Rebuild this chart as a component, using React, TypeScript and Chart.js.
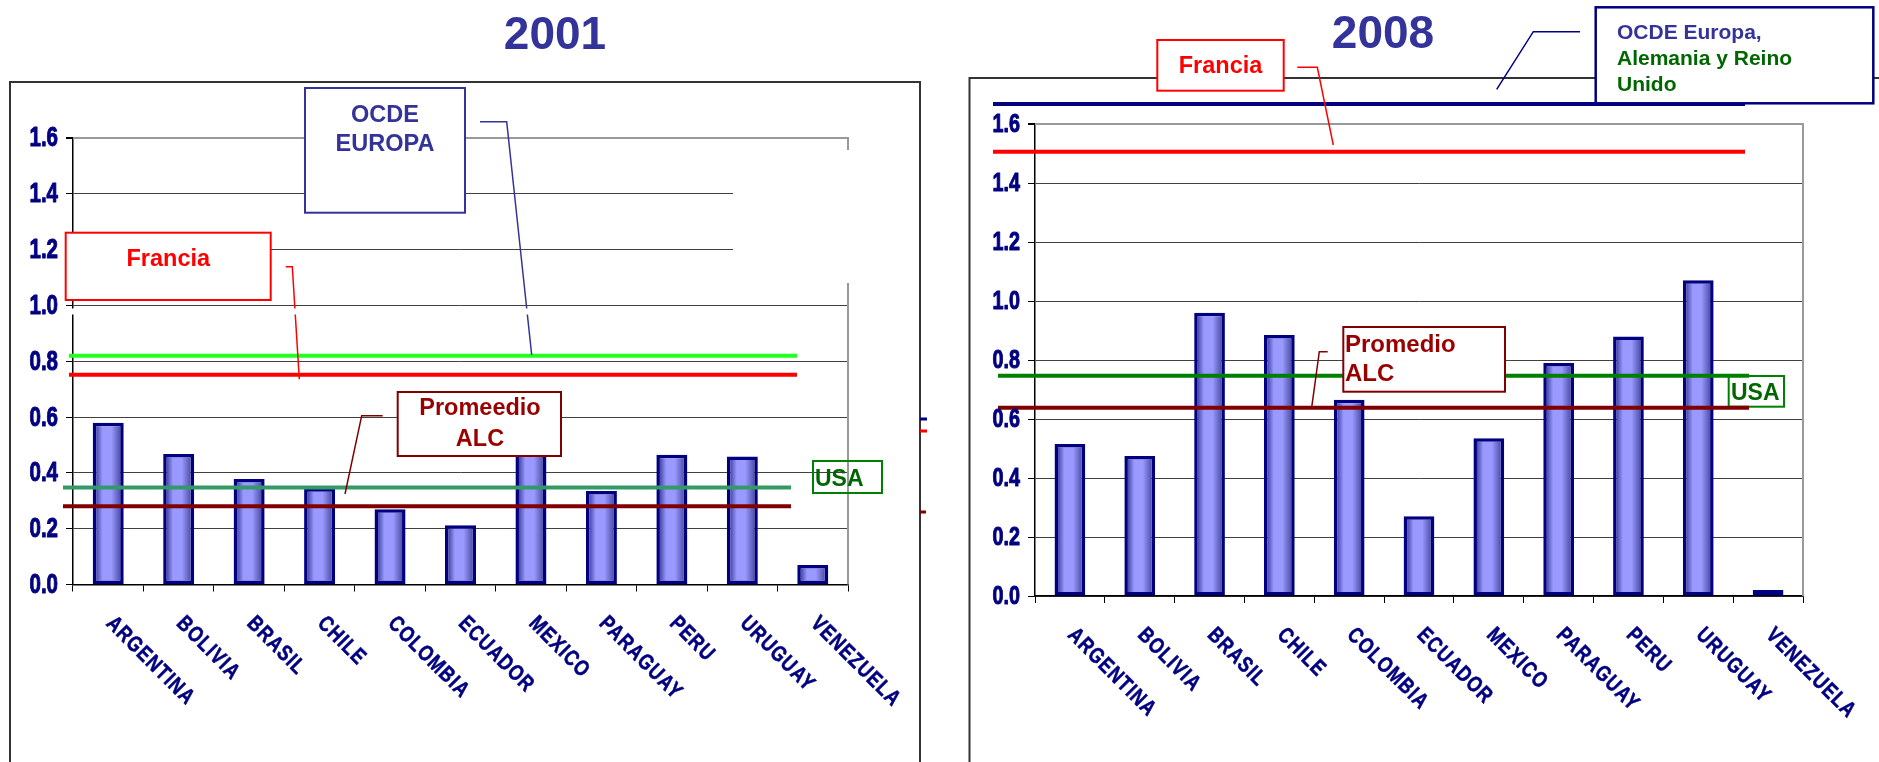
import React, { useEffect, useRef } from 'react';
import { Chart, registerables } from 'chart.js';

Chart.register(...registerables);

// ---------------- DATA ----------------
const categories = ['ARGENTINA', 'BOLIVIA', 'BRASIL', 'CHILE', 'COLOMBIA', 'ECUADOR', 'MEXICO', 'PARAGUAY', 'PERU', 'URUGUAY', 'VENEZUELA'];
const values2001 = [0.58, 0.468, 0.378, 0.345, 0.27, 0.212, 0.48, 0.335, 0.465, 0.459, 0.07];
const values2008 = [0.515, 0.475, 0.96, 0.885, 0.665, 0.27, 0.535, 0.79, 0.88, 1.07, 0.02];
// reference lines: OCDE Europa, Francia, USA, Promedio ALC
const refValues2001 = [0.82, 0.752, 0.348, 0.28];
const refValues2008 = [1.668, 1.506, 0.747, 0.638];
const yTickValues = [0, 0.2, 0.4, 0.6, 0.8, 1.0, 1.2, 1.4, 1.6];
const yTickLabels = ['0.0', '0.2', '0.4', '0.6', '0.8', '1.0', '1.2', '1.4', '1.6'];
const titles = ['2001', '2008'];

// ---------------- STYLE ----------------
const SANS = "'Liberation Sans', Arial, Helvetica, sans-serif";

type Pt = [number, number];

function poly(ctx: CanvasRenderingContext2D, pts: Pt[], color: string, w: number) {
  ctx.save();
  ctx.strokeStyle = color;
  ctx.lineWidth = w;
  ctx.beginPath();
  pts.forEach((p, i) => (i ? ctx.lineTo(p[0], p[1]) : ctx.moveTo(p[0], p[1])));
  ctx.stroke();
  ctx.restore();
}
function box(ctx: CanvasRenderingContext2D, x0: number, y0: number, x1: number, y1: number, color: string, w: number, fill: string | null) {
  ctx.save();
  if (fill) {
    ctx.fillStyle = fill;
    ctx.fillRect(x0, y0, x1 - x0, y1 - y0);
  }
  ctx.strokeStyle = color;
  ctx.lineWidth = w;
  ctx.strokeRect(x0, y0, x1 - x0, y1 - y0);
  ctx.restore();
}
function text(ctx: CanvasRenderingContext2D, s: string, x: number, y: number, size: number, color: string, align: CanvasTextAlign = 'center') {
  ctx.save();
  ctx.font = `bold ${size}px ${SANS}`;
  ctx.fillStyle = color;
  ctx.textAlign = align;
  ctx.textBaseline = 'alphabetic';
  ctx.fillText(s, x, y);
  ctx.restore();
}

interface Panel {
  left: number;
  width: number;
  plot: { left: number; right: number; top: number; bottom: number };
  tickSize: number;
  title: string;
  titleX: number;
  titleY: number;
  values: number[];
  refValues: number[];
  refStyles: { color: string; width: number; x0: number; x1: number }[];
  frame: (ctx: CanvasRenderingContext2D) => void;
  under: (ctx: CanvasRenderingContext2D) => void;
  decorate: (ctx: CanvasRenderingContext2D) => void;
}

const panels: Panel[] = [
  {
    left: 0,
    width: 945,
    plot: { left: 73, right: 848, top: 138, bottom: 584.5 },
    tickSize: 27,
    title: titles[0],
    titleX: 555,
    titleY: 49,
    values: values2001,
    refValues: refValues2001,
    refStyles: [
      { color: '#22FF22', width: 4, x0: 69, x1: 797 },
      { color: '#FF0000', width: 4, x0: 69, x1: 797 },
      { color: '#339966', width: 4, x0: 63, x1: 791 },
      { color: '#800000', width: 4, x0: 63, x1: 791 },
    ],
    frame: (ctx) => {
      poly(ctx, [[10, 762], [10, 82], [920, 82], [920, 762]], '#333333', 2);
    },
    under: () => {},
    decorate: (ctx) => {
      poly(ctx, [[480, 121.7], [506.7, 121.7], [531.7, 355]], '#333399', 1.5);
      box(ctx, 305, 88, 465, 212.7, '#333399', 2, '#ffffff');
      text(ctx, 'OCDE', 385, 121.7, 23.5, '#333399');
      text(ctx, 'EUROPA', 385, 150.7, 23.5, '#333399');
      box(ctx, 65.7, 232.7, 270.7, 300, '#FF0000', 2, '#ffffff');
      text(ctx, 'Francia', 168.3, 265.7, 23.5, '#FF0000');
      poly(ctx, [[285.7, 266.7], [292.3, 266.7], [299.3, 379.3]], '#FF0000', 1.5);
      box(ctx, 397.7, 392, 561, 456, '#800000', 2, '#ffffff');
      text(ctx, 'Promeedio', 480, 415, 23.5, '#990000');
      text(ctx, 'ALC', 480, 445.7, 23.5, '#990000');
      poly(ctx, [[382.7, 415.7], [361.7, 415.7], [345, 494]], '#800000', 1.5);
      box(ctx, 813, 461, 882, 493, '#008000', 2, null);
      text(ctx, 'USA', 815, 486, 23, '#006600', 'left');
      // white patches present in the original
      ctx.save();
      ctx.fillStyle = '#ffffff';
      ctx.fillRect(733, 150, 119, 133);
      ctx.fillRect(70, 308.5, 470, 6);
      ctx.restore();
      // stray line ends near the frame
      ctx.save();
      ctx.fillStyle = '#000080';
      ctx.fillRect(920, 417.5, 7, 3);
      ctx.fillStyle = '#FF0000';
      ctx.fillRect(920, 429.5, 7, 3);
      ctx.fillStyle = '#800000';
      ctx.fillRect(920, 510.5, 6, 3);
      ctx.restore();
    },
  },
  {
    left: 945,
    width: 934,
    plot: { left: 1035, right: 1803, top: 124, bottom: 596 },
    tickSize: 26,
    title: titles[1],
    titleX: 1383,
    titleY: 48,
    values: values2008,
    refValues: refValues2008,
    refStyles: [
      { color: '#000080', width: 4, x0: 993, x1: 1745 },
      { color: '#FF0000', width: 4, x0: 993, x1: 1745 },
      { color: '#008000', width: 4, x0: 998, x1: 1749 },
      { color: '#800000', width: 4, x0: 998, x1: 1749 },
    ],
    frame: (ctx) => {
      poly(ctx, [[969.5, 762], [969.5, 78], [1879, 78]], '#333333', 2);
    },
    under: (ctx) => {
      box(ctx, 1728.7, 376, 1784, 406.7, '#008000', 2, '#ffffff');
      text(ctx, 'USA', 1731, 400, 23, '#006600', 'left');
    },
    decorate: (ctx) => {
      box(ctx, 1157.3, 40, 1283.7, 90.7, '#FF0000', 2, '#ffffff');
      text(ctx, 'Francia', 1220.5, 73, 23.5, '#FF0000');
      poly(ctx, [[1297.3, 67.3], [1317.3, 67.3], [1333.3, 145]], '#FF0000', 1.5);
      poly(ctx, [[1580, 31.7], [1533.3, 31.7], [1496.7, 89.3]], '#000080', 1.5);
      box(ctx, 1595.7, 7.3, 1873.3, 103.3, '#000080', 2.5, '#ffffff');
      text(ctx, 'OCDE Europa,', 1617, 39, 21, '#333399', 'left');
      text(ctx, 'Alemania y Reino', 1617, 65, 21, '#006600', 'left');
      text(ctx, 'Unido', 1617, 90.7, 21, '#006600', 'left');
      box(ctx, 1343.3, 327, 1505, 391.7, '#800000', 2, '#ffffff');
      text(ctx, 'Promedio', 1345, 352, 24, '#990000', 'left');
      text(ctx, 'ALC', 1345, 381, 24, '#990000', 'left');
      poly(ctx, [[1327.7, 351.7], [1319.3, 351.7], [1311.7, 407.3]], '#800000', 1.5);
    },
  },
];

const BAR_PCT = 0.44;

function makeChart(canvas: HTMLCanvasElement, p: Panel) {
  const H = 762;
  const yAxisW = 60;
  const deco = {
    id: 'deco' + p.title,
    beforeDraw(chart: any) {
      const ctx = chart.ctx as CanvasRenderingContext2D;
      ctx.save();
      ctx.translate(-p.left, 0);
      p.frame(ctx);
      ctx.font = `bold 46px ${SANS}`;
      ctx.fillStyle = '#333399';
      ctx.textAlign = 'center';
      ctx.textBaseline = 'alphabetic';
      ctx.fillText(p.title, p.titleX, p.titleY);
      ctx.restore();
    },
    beforeDatasetsDraw(chart: any) {
      const ctx = chart.ctx as CanvasRenderingContext2D;
      const a = chart.chartArea;
      ctx.save();
      ctx.strokeStyle = '#999999';
      ctx.lineWidth = 2;
      ctx.beginPath();
      ctx.moveTo(a.left, a.top);
      ctx.lineTo(a.right, a.top);
      ctx.lineTo(a.right, a.bottom);
      ctx.stroke();
      ctx.translate(-p.left, 0);
      p.under(ctx);
      ctx.restore();
    },
    afterDatasetsDraw(chart: any) {
      const ctx = chart.ctx as CanvasRenderingContext2D;
      const ys = chart.scales.y;
      ctx.save();
      ctx.translate(-p.left, 0);
      p.refValues.forEach((v, i) => {
        const st = p.refStyles[i];
        const y = ys.getPixelForValue(v);
        poly(ctx, [[st.x0, y], [st.x1, y]], st.color, st.width);
      });
      ctx.restore();
    },
    afterDraw(chart: any) {
      const ctx = chart.ctx as CanvasRenderingContext2D;
      const xs = chart.scales.x;
      const ys = chart.scales.y;
      const a = chart.chartArea;
      // y tick labels (condensed, heavy)
      ctx.save();
      ctx.font = `bold ${p.tickSize}px ${SANS}`;
      ctx.fillStyle = '#000080';
      ctx.strokeStyle = '#000080';
      ctx.lineWidth = 1;
      ctx.lineJoin = 'round';
      ctx.textAlign = 'right';
      ctx.textBaseline = 'middle';
      yTickValues.forEach((v, i) => {
        const y = ys.getPixelForValue(v);
        ctx.save();
        ctx.translate(a.left - 15, y + 1);
        ctx.scale(0.76, 1);
        ctx.fillText(yTickLabels[i], 0, 0);
        ctx.strokeText(yTickLabels[i], 0, 0);
        ctx.restore();
      });
      ctx.restore();
      // rotated category labels
      ctx.save();
      ctx.font = `bold 22px ${SANS}`;
      (ctx as any).letterSpacing = '1.5px';
      ctx.fillStyle = '#000080';
      ctx.strokeStyle = '#000080';
      ctx.lineWidth = 0.6;
      ctx.textAlign = 'left';
      ctx.textBaseline = 'top';
      categories.forEach((c, i) => {
        const cx = xs.getPixelForValue(i);
        ctx.save();
        ctx.translate(cx + 9, a.bottom + 28);
        ctx.rotate(Math.PI / 4);
        ctx.scale(0.8, 1);
        ctx.fillText(c, 0, 0);
        ctx.strokeText(c, 0, 0);
        ctx.restore();
      });
      ctx.restore();
      ctx.save();
      ctx.translate(-p.left, 0);
      p.decorate(ctx);
      ctx.restore();
    },
  };

  return new Chart(canvas, {
    type: 'bar',
    data: {
      labels: categories,
      datasets: [
        {
          data: p.values,
          barPercentage: BAR_PCT,
          categoryPercentage: 1,
          borderColor: '#000080',
          borderWidth: 3.5,
          borderSkipped: false,
          backgroundColor: (c: any) => {
            const chart = c.chart;
            const xs = chart.scales && chart.scales.x;
            if (!xs || c.dataIndex == null || !xs.width) return '#9999FF';
            const cx = xs.getPixelForValue(c.dataIndex);
            const w = (xs.width / categories.length) * BAR_PCT;
            const g = chart.ctx.createLinearGradient(cx - w / 2, 0, cx + w / 2, 0);
            g.addColorStop(0, '#1a1a78');
            g.addColorStop(0.32, '#9999FF');
            g.addColorStop(0.6, '#9999FF');
            g.addColorStop(1, '#34348a');
            return g;
          },
        },
      ],
    },
    options: {
      responsive: false,
      animation: false,
      devicePixelRatio: 1,
      layout: {
        padding: {
          left: p.plot.left - p.left - yAxisW,
          right: p.left + p.width - p.plot.right,
          top: p.plot.top,
          bottom: 0,
        },
      },
      plugins: { legend: { display: false }, tooltip: { enabled: false } },
      scales: {
        x: {
          offset: true,
          afterFit: (s: any) => {
            s.height = H - p.plot.bottom;
          },
          grid: { offset: true, drawOnChartArea: false, drawTicks: true, tickLength: 7, color: '#000000', lineWidth: 1 },
          border: { display: true, color: '#000000', width: 1.5 },
          ticks: { display: false },
        },
        y: {
          min: 0,
          max: 1.6,
          afterFit: (s: any) => {
            s.width = yAxisW;
          },
          afterBuildTicks: (s: any) => {
            s.ticks = yTickValues.map((v) => ({ value: v }));
          },
          grid: {
            drawTicks: true,
            tickLength: 7,
            tickColor: '#000000',
            color: (c: any) => (c.tick && c.tick.value > 1.59 ? '#999999' : '#404040'),
            lineWidth: (c: any) => (c.tick && c.tick.value > 1.59 ? 2 : 1),
          },
          border: { display: true, color: '#000000', width: 1.5 },
          ticks: { display: false },
        },
      },
    },
    plugins: [deco],
  } as any);
}

function PanelChart({ p }: { p: Panel }) {
  const ref = useRef<HTMLCanvasElement | null>(null);
  useEffect(() => {
    if (!ref.current) return;
    const ch = makeChart(ref.current, p);
    return () => ch.destroy();
  }, [p]);
  return (
    <canvas
      ref={ref}
      width={p.width}
      height={762}
      style={{ position: 'absolute', left: p.left, top: 0, width: p.width, height: 762, display: 'block' }}
    />
  );
}

export default function App() {
  return (
    <div style={{ position: 'absolute', left: 0, top: 0, width: 1879, height: 762, overflow: 'hidden', background: '#ffffff' }}>
      {panels.map((p) => (
        <PanelChart key={p.title} p={p} />
      ))}
    </div>
  );
}
